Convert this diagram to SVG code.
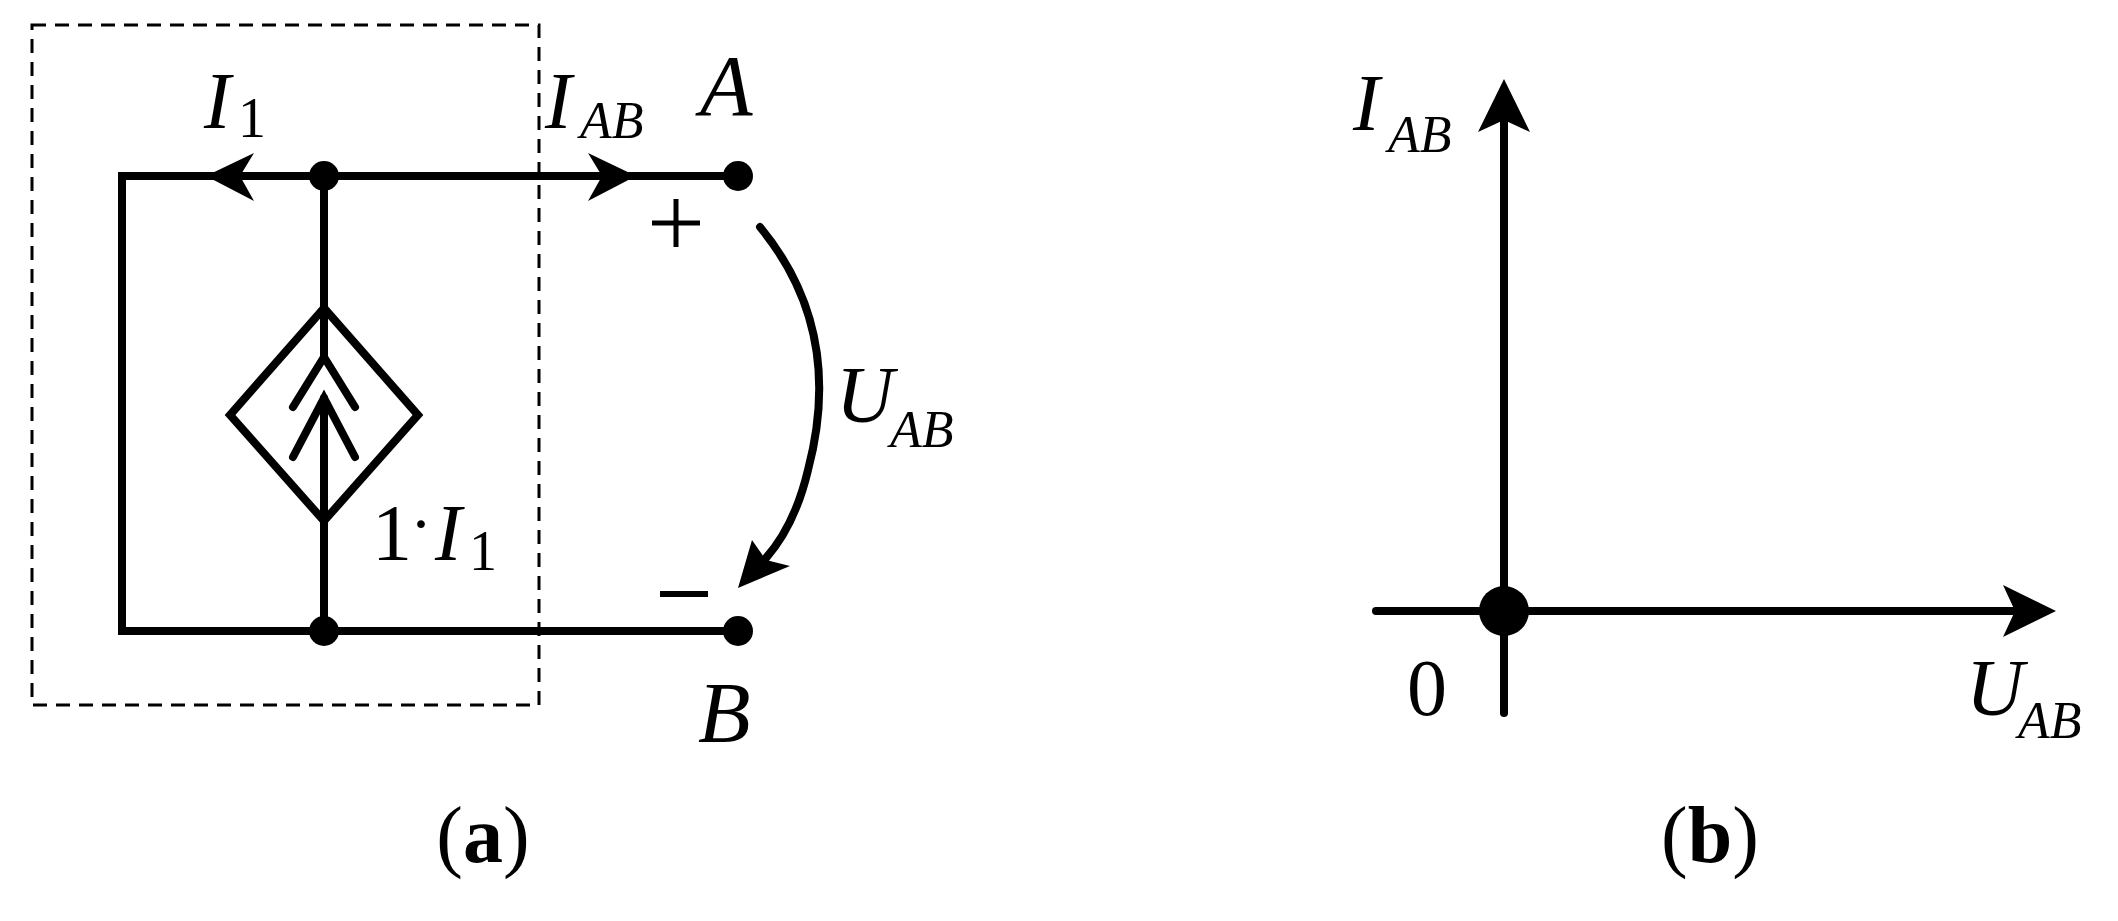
<svg xmlns="http://www.w3.org/2000/svg" width="2118" height="921" viewBox="0 0 2118 921">
<style>
.w{stroke:#000;stroke-width:8;fill:none;stroke-linecap:round;stroke-linejoin:miter}
.t{font-family:"Liberation Serif",serif;fill:#000}
.i{font-style:italic}
</style>
<rect width="2118" height="921" fill="#fff"/>
<g id="box"><rect x="32" y="25" width="507" height="680" fill="none" stroke="#000" stroke-width="3" stroke-dasharray="14 9"/></g>
<g id="connectors">
<polyline class="w" points="723,176 122,176 122,631 723,631"/>
<line class="w" x1="324" y1="176" x2="324" y2="357"/>
<line class="w" x1="324" y1="398" x2="324" y2="631"/>
<polygon points="206,176 254,153 240,176 254,201" fill="#000"/>
<polygon points="636,176 588,153 602,176 588,201" fill="#000"/>
<path class="w" d="M760,227 Q845,330 808,470 Q795,525 766,558"/>
<polygon points="738,588 752,540 766,560 790,566" fill="#000"/>
</g>
<g id="source">
<polygon class="w" points="324,308 418,415 324,521 230,415"/>
<polyline class="w" points="293,407 324,357 355,407"/>
<polyline class="w" points="293,457 324,398 355,457"/>
</g>
<g id="nodes" fill="#000">
<circle cx="324" cy="176" r="15"/><circle cx="324" cy="631" r="15"/>
<circle cx="738" cy="176" r="15"/><circle cx="738" cy="631" r="15"/>
</g>
<g id="labels-a" class="t">
<text x="204" y="128" font-size="80" class="i">I</text><text x="238" y="137" font-size="56">1</text>
<text x="545" y="128" font-size="80" class="i">I</text><text x="580" y="138" font-size="52" class="i">AB</text>
<text x="700" y="115" font-size="86" class="i">A</text>
<line x1="652" y1="223" x2="700" y2="223" stroke="#000" stroke-width="5"/>
<line x1="676" y1="199" x2="676" y2="247" stroke="#000" stroke-width="5"/>
<line x1="660" y1="594" x2="708" y2="594" stroke="#000" stroke-width="6"/>
<text x="698" y="742" font-size="86" class="i">B</text>
<text x="836" y="422" font-size="80" class="i">U</text><text x="890" y="447" font-size="52" class="i">AB</text>
<text x="372" y="560" font-size="80">1</text><text x="410" y="546" font-size="66">·</text>
<text x="435" y="560" font-size="80" class="i">I</text><text x="469" y="570" font-size="56">1</text>
<text x="483" y="862" font-size="80" text-anchor="middle">(<tspan font-weight="bold">a</tspan>)</text>
</g>
<g id="graph">
<line class="w" x1="1376" y1="611" x2="2030" y2="611"/>
<line class="w" x1="1504" y1="713" x2="1504" y2="100"/>
<polygon points="1504,79 1530,132 1504,120 1478,132" fill="#000"/>
<polygon points="2056,611 2003,637 2015,611 2003,585" fill="#000"/>
<circle cx="1504" cy="611" r="25" fill="#000"/>
</g>
<g id="labels-b" class="t">
<text x="1353" y="130" font-size="80" class="i">I</text><text x="1388" y="152" font-size="52" class="i">AB</text>
<text x="1427" y="715" font-size="80" text-anchor="middle">0</text>
<text x="1966" y="715" font-size="80" class="i">U</text><text x="2018" y="738" font-size="52" class="i">AB</text>
<text x="1710" y="862" font-size="80" text-anchor="middle">(<tspan font-weight="bold">b</tspan>)</text>
</g>
</svg>
